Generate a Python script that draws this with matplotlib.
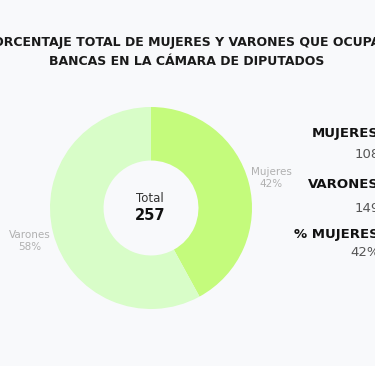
import matplotlib
matplotlib.use("Agg")
import matplotlib.pyplot as plt

categories = ["Mujeres", "Varones"]
values = [108, 149]
colors = ["#c4fb7c", "#d8fdc8"]
title = "PORCENTAJE TOTAL DE MUJERES Y VARONES QUE OCUPAN\nBANCAS EN LA CÁMARA DE DIPUTADOS"

total = sum(values)
pcts = [round(100 * v / total) for v in values]

W, H = 375, 366
bg = "#f8f9fb"
fig = plt.figure(figsize=(W / 100, H / 100), dpi=100, facecolor=bg)

def px(x, y):
    # pixel coords (from top-left) -> figure fraction
    return x / W, 1 - y / H

fam = ["Liberation Sans Narrow", "DejaVu Sans"]

# donut
cx, cy, r = 151, 208, 101
ax = fig.add_axes([(cx - r) / W, 1 - (cy + r) / H, 2 * r / W, 2 * r / H])
ax.set_facecolor(bg)
ax.pie(values, colors=colors, startangle=90, counterclock=False,
       radius=1, wedgeprops=dict(width=0.53, edgecolor="none"))
ax.set_xlim(-1, 1)
ax.set_ylim(-1, 1)
ax.axis("off")

fig.text(*px(187, 52), title, ha="center", va="center", fontsize=9,
         fontweight="bold", family=fam, color="#1a1a1a", linespacing=1.55)

# center total
fig.text(*px(150, 198), "Total", ha="center", va="center", fontsize=8.5, color="#333333")
fig.text(*px(150, 216), str(total), ha="center", va="center", fontsize=10.5,
         fontweight="bold", color="#111111")

# slice labels
grey = "#b0b0b0"
fig.text(*px(271, 178), f"{categories[0]}\n{pcts[0]}%", ha="center", va="center",
         fontsize=7.5, color=grey, linespacing=1.3)
fig.text(*px(30, 241), f"{categories[1]}\n{pcts[1]}%", ha="center", va="center",
         fontsize=7.5, color=grey, linespacing=1.3)

# right side summary (cut at the right edge, as in the source)
xh, xn = 379, 380
fig.text(*px(xh, 134), "MUJERES", ha="right", va="center", fontsize=9.5,
         fontweight="bold", color="#111111")
fig.text(*px(xn, 155), str(values[0]), ha="right", va="center", fontsize=9.5, color="#555555")
fig.text(*px(xh, 184), "VARONES", ha="right", va="center", fontsize=9.5,
         fontweight="bold", color="#111111")
fig.text(*px(xn, 208), str(values[1]), ha="right", va="center", fontsize=9.5, color="#555555")
fig.text(*px(xh, 234), "% MUJERES", ha="right", va="center", fontsize=9.5,
         fontweight="bold", color="#111111")
fig.text(*px(xn, 253), f"{pcts[0]}%", ha="right", va="center", fontsize=9.5, color="#555555")

fig.savefig("out.png", dpi=100, facecolor=bg)
